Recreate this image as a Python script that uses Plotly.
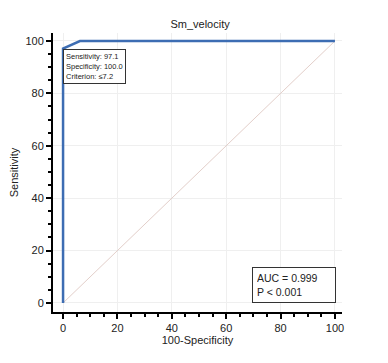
import plotly.graph_objects as go

roc_x = [0, 0, 6.2, 100]
roc_y = [0, 97.1, 100, 100]
diag_x = [0, 100]
diag_y = [0, 100]
major_ticks = [0, 20, 40, 60, 80, 100]

fig = go.Figure()
fig.add_trace(go.Scatter(x=diag_x, y=diag_y, mode="lines",
                         line=dict(color="#e3cfca", width=1), showlegend=False))
fig.add_trace(go.Scatter(x=roc_x, y=roc_y, mode="lines",
                         line=dict(color="#3d6db3", width=2.5), showlegend=False))

axis_common = dict(
    automargin=False,
    showgrid=True, gridcolor="#efefef", gridwidth=1,
    zeroline=False, showline=True, linecolor="black", linewidth=2,
    ticks="outside", ticklen=5, tickwidth=1.5, tickcolor="black",
    tickvals=major_ticks, tickfont=dict(size=11, color="#222", family="Liberation Sans"),
    minor=dict(ticks="outside", ticklen=3, tickcolor="black", dtick=5, tick0=0, showgrid=False),
)
fig.update_xaxes(range=[-3.7, 102.6], title=dict(text="100-Specificity", font=dict(size=11, family="Liberation Sans", color="#222"), standoff=3), **axis_common)
fig.update_yaxes(range=[-3.44, 103.05], title=dict(text="Sensitivity", font=dict(size=11, family="Liberation Sans", color="#222"), standoff=6), **axis_common)

fig.add_annotation(x=0, y=97, xref="x", yref="y", xanchor="left", yanchor="top",
                   text="Sensitivity: 97.1<br>Specificity: 100.0<br>Criterion: ≤7.2",
                   showarrow=False, align="left",
                   font=dict(size=7.5, family="Liberation Sans", color="#222"),
                   bordercolor="#333", borderwidth=1, borderpad=2, bgcolor="white")
fig.add_annotation(x=100.4, y=0, xref="x", yref="y", xanchor="right", yanchor="bottom",
                   text="AUC = 0.999<br>P < 0.001",
                   showarrow=False, align="left",
                   font=dict(size=10.5, family="Liberation Sans", color="#222"),
                   bordercolor="#333", borderwidth=1, borderpad=4, bgcolor="white",
                   width=74)

fig.update_layout(
    width=388, height=363,
    margin=dict(l=45, r=54, t=25, b=59),
    title=dict(text="Sm_velocity", x=0.495, xanchor="center", y=0.956, yanchor="middle",
               font=dict(size=11, family="Liberation Sans", color="#222")),
    plot_bgcolor="white", paper_bgcolor="white",
)
fig.write_html("out.html")
